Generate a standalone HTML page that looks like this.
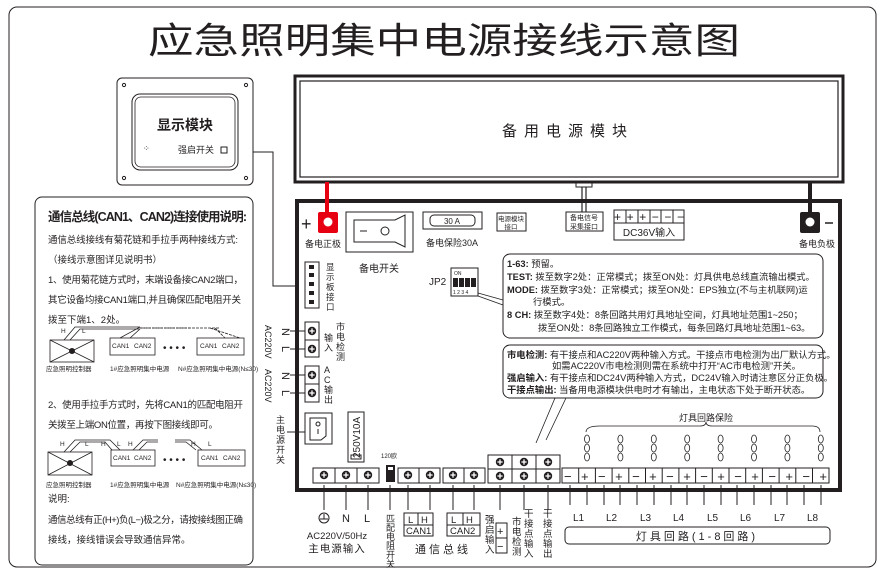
<!DOCTYPE html>
<html><head><meta charset="utf-8"><style>
html,body{margin:0;padding:0;background:#fff}
svg{display:block}
text{font-family:"Liberation Sans","Noto Sans CJK SC",sans-serif;fill:#231f20}
</style></head><body>
<svg width="887" height="576" viewBox="0 0 887 576" xmlns="http://www.w3.org/2000/svg">
<defs>
<g id="sc"><circle r="4.2" fill="#231f20"/><path d="M-2.6 0H2.6M0 -2.6V2.6" stroke="#fff" stroke-width="1.3"/></g>
</defs>
<rect x="9" y="7" width="867" height="560" rx="8" fill="none" stroke="#231f20" stroke-width="1"/>
<text x="444" y="53" font-size="36" text-anchor="middle" textLength="592" lengthAdjust="spacingAndGlyphs">应急照明集中电源接线示意图</text>

<!-- display module -->
<rect x="117" y="78" width="136" height="107" rx="5" fill="none" stroke="#231f20" stroke-width="1"/>
<rect x="132" y="94" width="106" height="76" rx="8" fill="none" stroke="#231f20" stroke-width="1"/>
<rect x="135" y="97" width="100" height="70" rx="6" fill="none" stroke="#231f20" stroke-width="0.8"/>
<circle cx="124" cy="85" r="1.6" fill="none" stroke="#231f20"/><circle cx="246" cy="85" r="1.6" fill="none" stroke="#231f20"/>
<circle cx="124" cy="178" r="1.6" fill="none" stroke="#231f20"/><circle cx="246" cy="178" r="1.6" fill="none" stroke="#231f20"/>
<text x="185" y="130" font-size="14" text-anchor="middle" font-weight="bold">显示模块</text>
<text x="143" y="151" font-size="8">⁘</text>
<text x="178" y="153" font-size="9">强启开关</text>
<rect x="221" y="147" width="6" height="6" fill="none" stroke="#231f20"/>
<polyline points="253,152 273,152 273,286 297,286" fill="none" stroke="#231f20" stroke-width="1"/>

<!-- battery module -->
<rect x="295" y="76" width="548" height="106" fill="none" stroke="#231f20" stroke-width="3"/>
<rect x="300" y="81" width="538" height="96" fill="none" stroke="#231f20" stroke-width="1.2"/>
<text x="568" y="136" font-size="15" text-anchor="middle" letter-spacing="7">备用电源模块</text>

<!-- main board -->
<rect x="297" y="201" width="543" height="289" fill="none" stroke="#231f20" stroke-width="4"/>
<line x1="327" y1="182" x2="327" y2="214" stroke="#e60012" stroke-width="4"/>
<rect x="318" y="212" width="20" height="21" rx="2" fill="#e60012"/><circle cx="328" cy="222" r="4.5" fill="#fff"/>
<text x="301" y="230" font-size="18">+</text>
<text x="305" y="247" font-size="9">备电正极</text>
<line x1="810" y1="182" x2="810" y2="214" stroke="#231f20" stroke-width="4"/>
<rect x="800" y="212" width="20" height="21" rx="2" fill="#231f20"/><circle cx="810" cy="222" r="4.5" fill="#fff"/>
<line x1="825" y1="223" x2="833" y2="223" stroke="#231f20" stroke-width="1.5"/>
<text x="799" y="247" font-size="9">备电负极</text>
<line x1="582" y1="182" x2="582" y2="212" stroke="#231f20" stroke-width="1.2"/><line x1="586" y1="182" x2="586" y2="212" stroke="#231f20" stroke-width="1.2"/>
<rect x="576" y="183" width="16" height="4" fill="#fff" stroke="#231f20"/>

<rect x="346" y="212" width="67" height="40" fill="none" stroke="#231f20"/>
<path d="M354 220 H395 L405 215 V247 L395 242 H354Z" fill="none" stroke="#231f20"/>
<line x1="360" y1="231" x2="367" y2="231" stroke="#231f20"/><circle cx="385" cy="231" r="4" fill="none" stroke="#231f20"/>
<text x="359" y="272" font-size="10">备电开关</text>
<rect x="423" y="212" width="59" height="17" fill="none" stroke="#231f20"/>
<rect x="430" y="215" width="45" height="11" rx="4" fill="none" stroke="#231f20"/>
<text x="452" y="224" font-size="8" text-anchor="middle">30 A</text>
<text x="426" y="246" font-size="9">备电保险30A</text>
<rect x="497" y="213" width="29" height="18" fill="none" stroke="#231f20"/>
<text x="511" y="221" font-size="6.5" text-anchor="middle">电源模块</text><text x="511" y="229" font-size="6.5" text-anchor="middle">接口</text>
<rect x="566" y="212" width="37" height="19" fill="none" stroke="#231f20"/>
<text x="584" y="220" font-size="7" text-anchor="middle">备电信号</text><text x="584" y="229" font-size="7" text-anchor="middle">采集接口</text>
<rect x="614" y="210" width="70" height="30" fill="none" stroke="#231f20"/>
<g stroke="#231f20">
<line x1="614" y1="223" x2="684" y2="223"/>
<line x1="626" y1="210" x2="626" y2="223"/><line x1="638" y1="210" x2="638" y2="223"/><line x1="650" y1="210" x2="650" y2="223"/><line x1="661" y1="210" x2="661" y2="223"/><line x1="673" y1="210" x2="673" y2="223"/>
</g>
<text x="614" y="221" font-size="12" textLength="70">+++−−−</text>
<text x="649" y="236" font-size="10" text-anchor="middle">DC36V输入</text>

<!-- display interface -->
<rect x="305" y="262" width="14" height="46" fill="none" stroke="#231f20"/>
<g fill="#231f20"><rect x="309" y="265" width="5" height="4"/><rect x="309" y="273" width="5" height="4"/><rect x="309" y="282" width="5" height="4"/><rect x="309" y="291" width="5" height="4"/><rect x="309" y="300" width="5" height="4"/></g>
<text font-size="8.5"><tspan x="326" y="270">显</tspan><tspan x="326" y="280">示</tspan><tspan x="326" y="290">板</tspan><tspan x="326" y="300">接</tspan><tspan x="326" y="310">口</tspan></text>

<!-- mains detect / AC out -->
<rect x="305" y="322" width="14" height="35" fill="none" stroke="#231f20"/><line x1="305" y1="340" x2="319" y2="340" stroke="#231f20"/>
<use href="#sc" x="312" y="331"/><use href="#sc" x="312" y="349"/>
<rect x="305" y="366" width="14" height="36" fill="none" stroke="#231f20"/><line x1="305" y1="384" x2="319" y2="384" stroke="#231f20"/>
<use href="#sc" x="312" y="375"/><use href="#sc" x="312" y="393"/>
<g stroke="#231f20"><line x1="290" y1="331" x2="305" y2="331"/><line x1="290" y1="349" x2="305" y2="349"/><line x1="290" y1="375" x2="305" y2="375"/><line x1="290" y1="393" x2="305" y2="393"/></g>
<text font-size="9"><tspan x="336" y="330">市</tspan><tspan x="336" y="340">电</tspan><tspan x="336" y="350">检</tspan><tspan x="336" y="360">测</tspan><tspan x="324" y="341">输</tspan><tspan x="324" y="351">入</tspan></text>
<text font-size="9"><tspan x="324" y="373">A</tspan><tspan x="324" y="383">C</tspan><tspan x="324" y="393">输</tspan><tspan x="324" y="403">出</tspan></text>
<g font-size="11"><text transform="translate(282,328) rotate(90)">N</text><text transform="translate(282,346) rotate(90)">L</text>
<text transform="translate(282,372) rotate(90)">N</text><text transform="translate(282,390) rotate(90)">L</text></g>
<g font-size="9"><text transform="translate(265,325) rotate(90)">AC220V</text><text transform="translate(265,369) rotate(90)">AC220V</text></g>

<!-- main switch & fuse -->
<rect x="305" y="413" width="27" height="31" fill="none" stroke="#231f20"/>
<path d="M310 418 H326 V436 L321 440 H310Z" fill="none" stroke="#231f20"/>
<circle cx="318" cy="424" r="2" fill="none" stroke="#231f20"/><line x1="318" y1="429" x2="318" y2="434" stroke="#231f20"/>
<line x1="287" y1="432" x2="305" y2="432" stroke="#231f20"/>
<text font-size="9"><tspan x="276" y="423">主</tspan><tspan x="276" y="433">电</tspan><tspan x="276" y="443">源</tspan><tspan x="276" y="453">开</tspan><tspan x="276" y="463">关</tspan></text>
<rect x="348" y="412" width="16" height="50" fill="none" stroke="#231f20"/>
<text transform="translate(360,458) rotate(-90)" font-size="10">250V10A</text>
<rect x="351" y="455" width="10" height="4" fill="none" stroke="#231f20"/>

<!-- JP2 -->
<text x="429" y="285" font-size="10">JP2</text>
<rect x="451" y="268" width="27" height="28" fill="none" stroke="#231f20"/>
<text x="454" y="275" font-size="5">ON</text>
<g fill="#231f20"><rect x="453" y="278" width="5" height="9"/><rect x="459" y="278" width="5" height="9"/><rect x="465" y="278" width="5" height="9"/><rect x="471" y="278" width="5" height="9"/></g>
<text x="453" y="294" font-size="5">1 2 3 4</text>
<path d="M478 293 L503 300 M478 296 L503 305" stroke="#231f20" stroke-width="0.8"/>

<!-- info boxes -->
<rect x="503" y="254" width="320" height="84" rx="7" fill="#fff" stroke="#231f20" stroke-width="1"/>
<g font-size="9.3">
<text x="507" y="267"><tspan font-weight="bold">1-63:</tspan> 预留。</text>
<text x="507" y="280"><tspan font-weight="bold">TEST:</tspan> 拨至数字2处：正常模式；拨至ON处：灯具供电总线直流输出模式。</text>
<text x="507" y="293"><tspan font-weight="bold">MODE:</tspan> 拨至数字3处：正常模式；拨至ON处：EPS独立(不与主机联网)运</text>
<text x="533" y="305">行模式。</text>
<text x="507" y="318"><tspan font-weight="bold">8 CH:</tspan> 拨至数字4处：8条回路共用灯具地址空间，灯具地址范围1~250；</text>
<text x="538" y="331">拨至ON处：8条回路独立工作模式，每条回路灯具地址范围1~63。</text>
</g>
<rect x="503" y="345" width="320" height="53" rx="7" fill="#fff" stroke="#231f20" stroke-width="1"/>
<g font-size="9.3">
<text x="507" y="358"><tspan font-weight="bold">市电检测:</tspan> 有干接点和AC220V两种输入方式。干接点市电检测为出厂默认方式。</text>
<text x="552" y="369">如需AC220V市电检测则需在系统中打开“AC市电检测”开关。</text>
<text x="507" y="381"><tspan font-weight="bold">强启输入:</tspan> 有干接点和DC24V两种输入方式，DC24V输入时请注意区分正负极。</text>
<text x="507" y="393"><tspan font-weight="bold">干接点输出:</tspan> 当备用电源模块供电时才有输出，主电状态下处于断开状态。</text>
</g>
<path d="M555 398 L536 443 M566 398 L546 440" stroke="#231f20" stroke-width="0.8"/>

<!-- bottom terminals -->
<g fill="none" stroke="#231f20">
<rect x="313" y="468" width="66" height="15"/><line x1="335" y1="468" x2="335" y2="483"/><line x1="357" y1="468" x2="357" y2="483"/>
<rect x="398" y="468" width="42" height="15"/><line x1="419" y1="468" x2="419" y2="483"/>
<rect x="443" y="468" width="42" height="15"/><line x1="464" y1="468" x2="464" y2="483"/>
<rect x="488" y="455" width="72" height="28"/><line x1="488" y1="469" x2="560" y2="469"/><line x1="512" y1="455" x2="512" y2="483"/><line x1="536" y1="455" x2="536" y2="483"/>
</g>
<use href="#sc" x="324" y="475"/><use href="#sc" x="346" y="475"/><use href="#sc" x="368" y="475"/>
<use href="#sc" x="408" y="475"/><use href="#sc" x="430" y="475"/><use href="#sc" x="453" y="475"/><use href="#sc" x="474" y="475"/>
<use href="#sc" x="500" y="462"/><use href="#sc" x="524" y="462"/><use href="#sc" x="548" y="462"/>
<use href="#sc" x="500" y="476"/><use href="#sc" x="524" y="476"/><use href="#sc" x="548" y="476"/>
<text x="381" y="458" font-size="6">120欧</text>
<rect x="386" y="465" width="9" height="17" fill="#231f20"/><rect x="388" y="467" width="5" height="3" fill="#fff"/>

<!-- lamp row -->
<rect x="562" y="468" width="267" height="15" fill="none" stroke="#231f20"/>
<g stroke="#231f20">
<line x1="578.7" y1="468" x2="578.7" y2="483"/><line x1="595.4" y1="468" x2="595.4" y2="483"/><line x1="612.1" y1="468" x2="612.1" y2="483"/><line x1="628.8" y1="468" x2="628.8" y2="483"/><line x1="645.5" y1="468" x2="645.5" y2="483"/><line x1="662.2" y1="468" x2="662.2" y2="483"/><line x1="678.9" y1="468" x2="678.9" y2="483"/><line x1="695.6" y1="468" x2="695.6" y2="483"/><line x1="712.3" y1="468" x2="712.3" y2="483"/><line x1="729" y1="468" x2="729" y2="483"/><line x1="745.7" y1="468" x2="745.7" y2="483"/><line x1="762.4" y1="468" x2="762.4" y2="483"/><line x1="779.1" y1="468" x2="779.1" y2="483"/><line x1="795.8" y1="468" x2="795.8" y2="483"/><line x1="812.5" y1="468" x2="812.5" y2="483"/>
</g>
<text x="564" y="481" font-size="13" textLength="263" lengthAdjust="spacing">−+−+−+−+−+−+−+−+</text>
<text x="706" y="421" font-size="9" text-anchor="middle">灯具回路保险</text>
<path d="M586 432 Q586 426 600 426 L700 426 Q706 426 706 422 Q706 426 712 426 L812 426 Q820 426 820 432" fill="none" stroke="#231f20" stroke-width="0.8"/>
<g fill="none" stroke="#231f20" stroke-width="0.8" id="fz">
<ellipse cx="587" cy="439" rx="2.5" ry="4"/><ellipse cx="587" cy="448" rx="2.5" ry="4"/><ellipse cx="587" cy="457" rx="2.5" ry="4"/>
</g>
<use href="#fz" x="33.4"/><use href="#fz" x="66.8"/><use href="#fz" x="100.2"/><use href="#fz" x="133.6"/><use href="#fz" x="167"/><use href="#fz" x="200.4"/><use href="#fz" x="233.8"/>

<!-- legs -->
<g stroke="#231f20" stroke-width="1">
<line x1="324" y1="485" x2="324" y2="510"/><line x1="346" y1="485" x2="346" y2="510"/><line x1="368" y1="485" x2="368" y2="510"/>
<line x1="390" y1="485" x2="390" y2="510"/><line x1="408" y1="485" x2="408" y2="510"/><line x1="430" y1="485" x2="430" y2="510"/><line x1="453" y1="485" x2="453" y2="510"/><line x1="474" y1="485" x2="474" y2="510"/>
<line x1="500" y1="485" x2="500" y2="510"/><line x1="524" y1="485" x2="524" y2="510"/><line x1="548" y1="485" x2="548" y2="510"/>
<line x1="570" y1="485" x2="570" y2="505"/><line x1="587" y1="485" x2="587" y2="505"/><line x1="604" y1="485" x2="604" y2="505"/><line x1="620" y1="485" x2="620" y2="505"/><line x1="637" y1="485" x2="637" y2="505"/><line x1="654" y1="485" x2="654" y2="505"/><line x1="671" y1="485" x2="671" y2="505"/><line x1="687" y1="485" x2="687" y2="505"/><line x1="704" y1="485" x2="704" y2="505"/><line x1="721" y1="485" x2="721" y2="505"/><line x1="737" y1="485" x2="737" y2="505"/><line x1="754" y1="485" x2="754" y2="505"/><line x1="771" y1="485" x2="771" y2="505"/><line x1="787" y1="485" x2="787" y2="505"/><line x1="804" y1="485" x2="804" y2="505"/><line x1="821" y1="485" x2="821" y2="505"/>
</g>
<g font-size="10"><text x="573" y="521">L1</text><text x="606" y="521">L2</text><text x="640" y="521">L3</text><text x="673" y="521">L4</text><text x="707" y="521">L5</text><text x="740" y="521">L6</text><text x="774" y="521">L7</text><text x="807" y="521">L8</text></g>
<rect x="565" y="527" width="265" height="17" rx="4" fill="none" stroke="#231f20"/>
<text x="697" y="540" font-size="11" text-anchor="middle" letter-spacing="3">灯具回路(1-8回路)</text>

<!-- bottom labels -->
<circle cx="324" cy="518" r="5" fill="none" stroke="#231f20"/><line x1="320" y1="519" x2="328" y2="519" stroke="#231f20"/><line x1="324" y1="514" x2="324" y2="519" stroke="#231f20"/>
<text x="342" y="522" font-size="11">N</text><text x="364" y="522" font-size="11">L</text>
<text x="337" y="539" font-size="9.5" text-anchor="middle">AC220V/50Hz</text>
<text x="337" y="552" font-size="10.5" text-anchor="middle" letter-spacing="1">主电源输入</text>
<text font-size="9"><tspan x="386" y="522">匹</tspan><tspan x="386" y="531">配</tspan><tspan x="386" y="540">电</tspan><tspan x="386" y="549">阻</tspan><tspan x="386" y="558">开</tspan><tspan x="386" y="567">关</tspan></text>
<g fill="none" stroke="#231f20"><rect x="404" y="513" width="29" height="23"/><line x1="404" y1="525" x2="433" y2="525"/><line x1="418" y1="513" x2="418" y2="525"/>
<rect x="447" y="513" width="33" height="23"/><line x1="447" y1="525" x2="480" y2="525"/><line x1="463" y1="513" x2="463" y2="525"/></g>
<g font-size="9.5"><text x="408" y="523">L</text><text x="421" y="523">H</text><text x="406" y="534">CAN1</text>
<text x="451" y="523">L</text><text x="466" y="523">H</text><text x="450" y="534">CAN2</text></g>
<text x="443" y="553" font-size="11" text-anchor="middle" letter-spacing="3">通信总线</text>
<text font-size="9.5"><tspan x="485" y="523">强</tspan><tspan x="485" y="533">启</tspan><tspan x="485" y="543">输</tspan><tspan x="485" y="553">入</tspan></text>
<rect x="496" y="523" width="11" height="30" fill="none" stroke="#231f20"/><line x1="496" y1="538" x2="507" y2="538" stroke="#231f20"/>
<text x="497" y="535" font-size="11">+</text><text x="497" y="550" font-size="11">−</text>
<text font-size="9.5"><tspan x="512" y="525">市</tspan><tspan x="512" y="535">电</tspan><tspan x="512" y="545">检</tspan><tspan x="512" y="555">测</tspan></text>
<text font-size="9.5"><tspan x="524" y="517">干</tspan><tspan x="524" y="527">接</tspan><tspan x="524" y="537">点</tspan><tspan x="524" y="547">输</tspan><tspan x="524" y="557">入</tspan></text>
<text font-size="9.5"><tspan x="543" y="517">干</tspan><tspan x="543" y="527">接</tspan><tspan x="543" y="537">点</tspan><tspan x="543" y="547">输</tspan><tspan x="543" y="557">出</tspan></text>

<!-- left note panel -->
<rect x="35" y="197" width="218" height="368" rx="7" fill="none" stroke="#231f20" stroke-width="1"/>
<text x="48" y="221" font-size="12.5" font-weight="bold" textLength="199">通信总线(CAN1、CAN2)连接使用说明:</text>
<g font-size="9.5">
<text x="48" y="243" textLength="190">通信总线接线有菊花链和手拉手两种接线方式:</text>
<text x="48" y="263">（接线示意图详见说明书）</text>
<text x="48" y="283" textLength="195">1、使用菊花链方式时，末端设备接CAN2端口，</text>
<text x="48" y="303" textLength="193">其它设备均接CAN1端口,并且确保匹配电阻开关</text>
<text x="48" y="323">拨至下端1、2处。</text>
<text x="48" y="408" textLength="195">2、使用手拉手方式时，先将CAN1的匹配电阻开</text>
<text x="48" y="428" textLength="170">关拨至上端ON位置，再按下图接线即可。</text>
<text x="48" y="502">说明:</text>
<text x="48" y="523" textLength="195">通信总线有正(H+)负(L−)极之分，请按接线图正确</text>
<text x="48" y="543">接线，接线错误会导致通信异常。</text>
</g>
<!-- diagram 1 -->
<g fill="none" stroke="#231f20" stroke-width="0.8">
<rect x="50" y="340" width="44" height="22"/><path d="M50 340 L94 362 M94 340 L50 362"/>
<rect x="110" y="338" width="45" height="17"/><rect x="197" y="338" width="47" height="17"/>
<path d="M64 340 L75 327 L140 327 M70 340 L80 329 L140 329"/>
<path d="M140 327 L120 338 M140 329 L130 338"/>
<path d="M140 328 L220 328 M210 328 L240 338 M215 328 L225 338" stroke-dasharray="3 1"/>
<path d="M140 328 L190 328" stroke-dasharray="2 1"/>
</g>
<circle cx="72" cy="351" r="3" fill="#231f20"/>
<g font-size="6.5"><text x="112" y="348">CAN1</text><text x="134" y="348">CAN2</text><text x="200" y="348">CAN1</text><text x="222" y="348">CAN2</text>
<text x="61" y="333">H</text><text x="82" y="333">L</text>
<text x="46" y="371">应急照明控制器</text><text x="110" y="371">1#应急照明集中电源</text><text x="178" y="371">N#应急照明集中电源(N≤30)</text></g>
<text x="163" y="351" font-size="10">• • • •</text>
<!-- diagram 2 -->
<g fill="none" stroke="#231f20" stroke-width="0.8">
<rect x="48" y="452" width="44" height="23"/><path d="M48 452 L92 475 M92 452 L48 475"/>
<rect x="111" y="450" width="44" height="16"/><rect x="198" y="450" width="47" height="16"/>
<path d="M64 452 L75 440 L110 440 L120 450 M70 452 L80 442 L105 442 L112 450"/>
<path d="M133 450 L143 440 L158 440 M139 450 L147 442 L158 442"/>
<path d="M175 440 L190 440 L202 450 M175 442 L186 442 L196 450"/>
</g>
<circle cx="70" cy="463" r="3" fill="#231f20"/>
<g font-size="6.5"><text x="113" y="460">CAN1</text><text x="134" y="460">CAN2</text><text x="201" y="460">CAN1</text><text x="223" y="460">CAN2</text>
<text x="60" y="446">H</text><text x="85" y="446">L</text><text x="101" y="446">H</text><text x="117" y="446">L</text><text x="128" y="446">H</text><text x="191" y="446">H</text><text x="208" y="446">L</text>
<text x="46" y="487">应急照明控制器</text><text x="110" y="487">1#应急照明集中电源</text><text x="176" y="487">N#应急照明集中电源(N≤30)</text></g>
<text x="163" y="463" font-size="10">• • • •</text>
</svg>
</body></html>
